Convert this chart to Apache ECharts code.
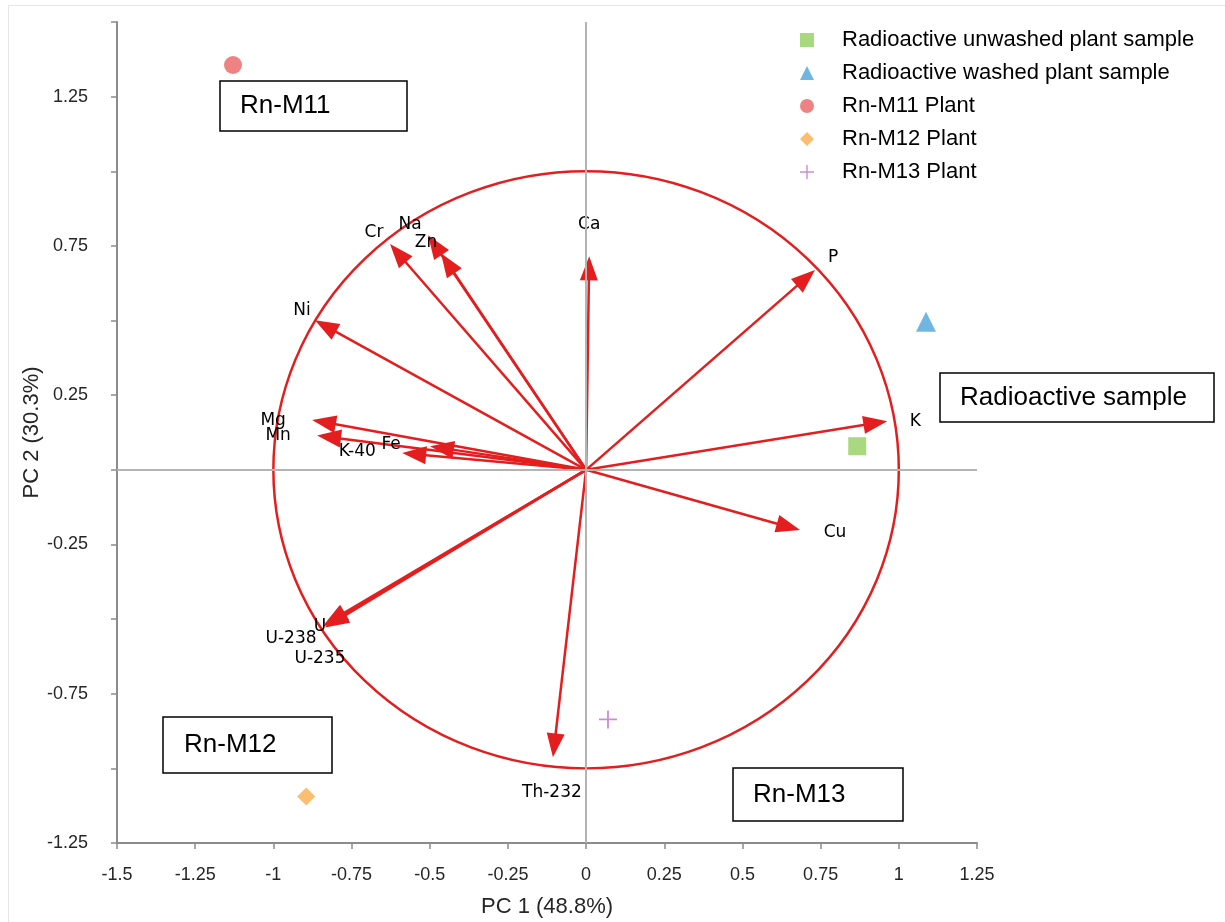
<!DOCTYPE html>
<html>
<head>
<meta charset="utf-8">
<title>PCA biplot</title>
<script src="https://cdn.jsdelivr.net/npm/echarts@6/dist/echarts.min.js"></script>
<style>
  html, body { margin: 0; padding: 0; background: #ffffff; }
  #chart { width: 1225px; height: 922px; }
</style>
</head>
<body>
<div id="chart"></div>
<script>
// Variable loadings on PC 1 and PC 2
const variables   = ['Ca', 'P', 'K', 'Cu', 'Th-232', 'U', 'U-238', 'U-235', 'Ni', 'Cr', 'Na', 'Zn', 'Mg', 'Mn', 'Fe', 'K-40'];
const pc1Loadings = [0.010, 0.732, 0.963, 0.684, -0.106, -0.841, -0.838, -0.835, -0.867, -0.627, -0.505, -0.464, -0.876, -0.860, -0.499, -0.588];
const pc2Loadings = [0.715, 0.669, 0.163, -0.202, -0.963, -0.524, -0.519, -0.528, 0.501, 0.756, 0.786, 0.725, 0.167, 0.115, 0.079, 0.056];

// Sample scores on PC 1 and PC 2
const sampleNames = ['Radioactive unwashed plant sample', 'Radioactive washed plant sample', 'Rn-M11 Plant', 'Rn-M12 Plant', 'Rn-M13 Plant'];
const samplePC1   = [0.867, 1.087, -1.129, -0.895, 0.070];
const samplePC2   = [0.079, 0.496, 1.356, -1.094, -0.836];

// Correlation circle radius
const circleRadius = 1;

// Axis ranges and tick step
const xRange = [-1.5, 1.25];
const yRange = [-1.25, 1.5];
const tickStep = 0.25;

// Group annotations
const groupLabels = ['Rn-M11', 'Radioactive sample', 'Rn-M12', 'Rn-M13'];

// ---- styling ----
const RED = '#e41e1e';
const PLUS_PATH = 'path://M-1,-10L1,-10L1,-1L10,-1L10,1L1,1L1,10L-1,10L-1,1L-10,1L-10,-1L-1,-1Z';
const sampleStyles = [
  { symbol: 'rect',     size: 18, color: '#a9d97e' },
  { symbol: 'triangle', size: 20, color: '#6fb7e2' },
  { symbol: 'circle',   size: 18, color: '#ef8282' },
  { symbol: 'diamond',  size: 18, color: '#fbbd70' },
  { symbol: PLUS_PATH,  size: 18, color: '#c88ed4' }
];
// pixel offset of each variable label from its arrow tip
const labelOffsets = {
  'Ca': [0, -32], 'P': [18, -13], 'K': [28, 0], 'Cu': [35, 2], 'Th-232': [-1, 35],
  'U': [-3, 0], 'U-238': [-33, 14], 'U-235': [-5, 31], 'Ni': [-13, -10], 'Cr': [-16, -12],
  'Na': [-18, -11], 'Zn': [-15, -11], 'Mg': [-39, 1], 'Mn': [-39, 0], 'Fe': [-39, -2], 'K-40': [-45, -2]
};
// boxes around the group annotations (pixel layout)
const boxLayout = [
  { x: 220, y: 81,  w: 187, h: 50, tx: 240 },
  { x: 940, y: 373, w: 274, h: 49, tx: 960 },
  { x: 163, y: 717, w: 169, h: 56, tx: 184 },
  { x: 733, y: 768, w: 170, h: 53, tx: 753 }
];

const chart = echarts.init(document.getElementById('chart'), null, { renderer: 'canvas' });

const axisColor = '#8c8c8c';
const labelFont = '"Liberation Sans", Arial, sans-serif';

const arrowSeries = {
  type: 'custom',
  name: 'loadings',
  z: 4,
  silent: true,
  data: variables.map((v, i) => [pc1Loadings[i], pc2Loadings[i]]),
  renderItem: function (params, api) {
    const o = api.coord([0, 0]);
    const e = api.coord([api.value(0), api.value(1)]);
    const dx = e[0] - o[0], dy = e[1] - o[1];
    const len = Math.hypot(dx, dy);
    const ux = dx / len, uy = dy / len;
    const L = 24, W = 18;
    const bx = e[0] - ux * L, by = e[1] - uy * L;
    const px = -uy, py = ux;
    const name = variables[params.dataIndex];
    const off = labelOffsets[name] || [0, 0];
    return {
      type: 'group',
      children: [
        { type: 'line', shape: { x1: o[0], y1: o[1], x2: bx + ux * 3, y2: by + uy * 3 },
          style: { stroke: RED, lineWidth: 2.5 } },
        { type: 'polygon', shape: { points: [[e[0], e[1]], [bx + px * W / 2, by + py * W / 2], [bx - px * W / 2, by - py * W / 2]] },
          style: { fill: RED } },
        { type: 'text', x: e[0] + off[0], y: e[1] + off[1],
          style: { text: name, align: 'center', verticalAlign: 'middle', font: '17px "DejaVu Sans", sans-serif', fill: '#000' } }
      ]
    };
  }
};

const circleSeries = {
  type: 'custom',
  name: 'circle',
  z: 3,
  silent: true,
  data: [[0, 0, circleRadius]],
  renderItem: function (params, api) {
    const c = api.coord([api.value(0), api.value(1)]);
    const rx = api.size([api.value(2), 0])[0];
    const ry = api.size([0, api.value(2)])[1];
    return {
      type: 'circle',
      x: c[0], y: c[1],
      scaleX: 1, scaleY: ry / rx,
      shape: { cx: 0, cy: 0, r: rx },
      style: { fill: 'none', stroke: RED, lineWidth: 2.5, strokeNoScale: true }
    };
  }
};

const crossSeries = {
  type: 'scatter',
  name: 'axes0',
  z: 2,
  silent: true,
  data: [],
  markLine: {
    silent: true,
    symbol: ['none', 'none'],
    label: { show: false },
    lineStyle: { color: '#b4b4b4', width: 2, type: 'solid' },
    emphasis: { disabled: true },
    data: [{ xAxis: 0 }, { yAxis: 0 }]
  }
};

const sampleSeries = sampleNames.map((name, i) => ({
  type: 'scatter',
  name: name,
  z: 5,
  symbol: sampleStyles[i].symbol,
  symbolSize: sampleStyles[i].size,
  itemStyle: { color: sampleStyles[i].color, opacity: 1 },
  data: [[samplePC1[i], samplePC2[i]]]
}));

const graphics = [
  { type: 'line', shape: { x1: 8.5, y1: 5.5, x2: 8.5, y2: 922 }, style: { stroke: '#e6e6e6', lineWidth: 1 }, silent: true },
  { type: 'line', shape: { x1: 8.5, y1: 5.5, x2: 1225, y2: 5.5 }, style: { stroke: '#e6e6e6', lineWidth: 1 }, silent: true }
];
groupLabels.forEach((text, i) => {
  const b = boxLayout[i];
  graphics.push({ type: 'rect', z: 10, shape: { x: b.x, y: b.y, width: b.w, height: b.h },
    style: { fill: '#fff', stroke: '#000', lineWidth: 1.5 } });
  graphics.push({ type: 'text', z: 11, x: b.tx, y: b.y + b.h / 2,
    style: { text: text, font: '26px ' + labelFont, fill: '#000', verticalAlign: 'middle' } });
});

// label every other tick on the vertical axis, starting from its minimum
function yTickLabel(v) {
  const idx = Math.round((v - yRange[0]) / tickStep);
  return idx % 2 === 0 ? String(+v.toFixed(2)) : '';
}

const option = {
  backgroundColor: '#ffffff',
  animation: false,
  grid: { left: 117, right: 248, top: 22, bottom: 79, containLabel: false, outerBoundsMode: 'none' },
  xAxis: {
    type: 'value',
    min: xRange[0], max: xRange[1], interval: tickStep,
    name: 'PC 1 (48.8%)',
    nameLocation: 'middle',
    nameGap: 53,
    nameMoveOverlap: false,
    nameTextStyle: { fontFamily: labelFont, fontSize: 22, color: '#262626' },
    axisLine: { onZero: false, lineStyle: { color: axisColor, width: 2 } },
    axisTick: { show: true, length: 6, lineStyle: { color: axisColor, width: 1.5 } },
    axisLabel: { fontFamily: labelFont, fontSize: 18, color: '#262626', margin: 23 },
    splitLine: { show: false }
  },
  yAxis: {
    type: 'value',
    min: yRange[0], max: yRange[1], interval: tickStep,
    name: 'PC 2 (30.3%)',
    nameLocation: 'middle',
    nameGap: 74,
    nameMoveOverlap: false,
    nameRotate: 90,
    nameTextStyle: { fontFamily: labelFont, fontSize: 22, color: '#262626' },
    axisLine: { onZero: false, lineStyle: { color: axisColor, width: 2 } },
    axisTick: { show: true, length: 6, interval: 0, lineStyle: { color: axisColor, width: 1.5 } },
    axisLabel: { fontFamily: labelFont, fontSize: 18, color: '#262626', margin: 29, formatter: yTickLabel },
    splitLine: { show: false }
  },
  legend: {
    orient: 'vertical',
    left: 795,
    top: 24,
    itemWidth: 14,
    itemHeight: 14,
    itemGap: 11,
    selectedMode: false,
    textStyle: { fontFamily: labelFont, fontSize: 22, color: '#000', padding: [0, 0, 0, 23] },
    data: sampleNames.map((n, i) => ({ name: n, icon: sampleStyles[i].symbol }))
  },
  graphic: graphics,
  series: [crossSeries, circleSeries, arrowSeries].concat(sampleSeries)
};

chart.setOption(option);
</script>
</body>
</html>
